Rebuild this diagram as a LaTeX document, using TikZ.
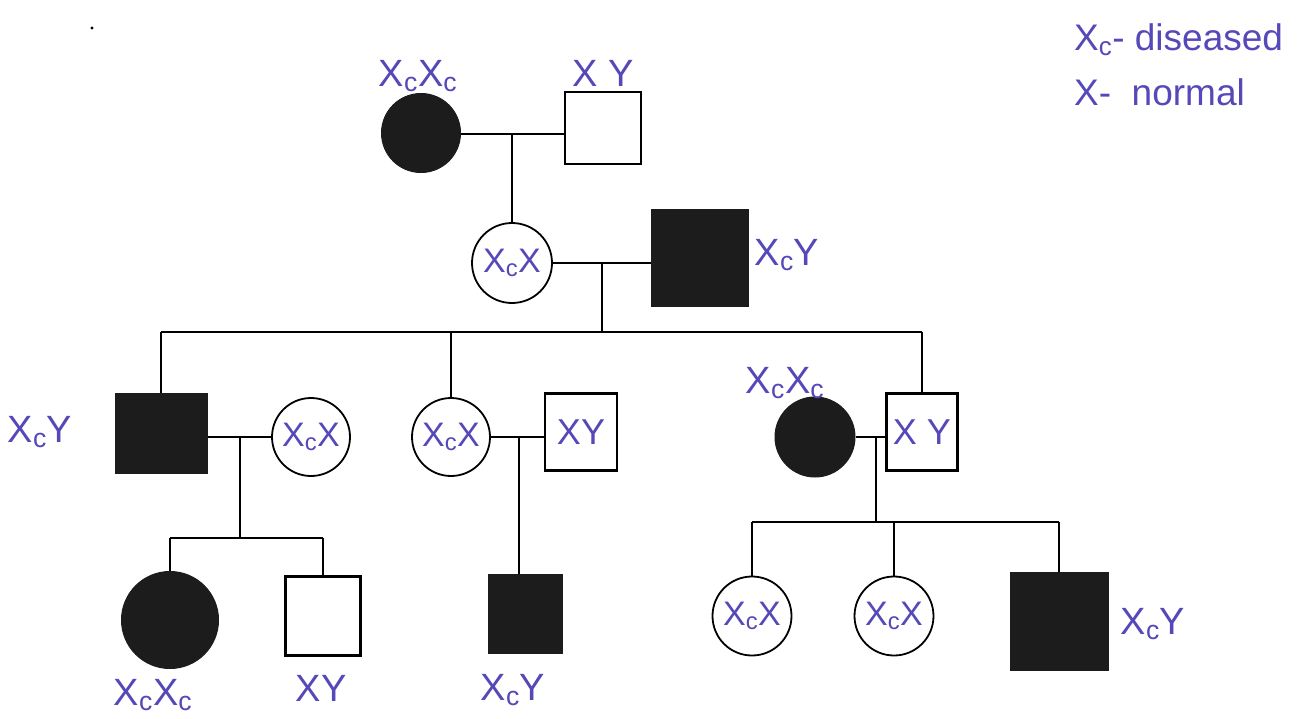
\documentclass[tikz,border=0pt]{standalone}
\usepackage{fontspec}
\setmainfont{Liberation Sans}
\definecolor{ink}{HTML}{5548B8}
\definecolor{dark}{HTML}{1C1C1C}
\begin{document}
\begin{tikzpicture}[x=1pt,y=-1pt,
  line width=2.4pt,
  affF/.style={circle,fill=dark,draw=dark,line width=1pt,inner sep=0pt},
  unF/.style={circle,draw=black,line width=1.8pt,fill=white,inner sep=0pt,text=ink,font=\fontsize{34}{38}\selectfont},
  affM/.style={rectangle,fill=dark,draw=dark,line width=1pt,inner sep=0pt},
  unM/.style={rectangle,draw=black,line width=2.4pt,fill=white,inner sep=0pt,text=ink,font=\fontsize{36}{40}\selectfont},
  lab/.style={text=ink,inner sep=0pt,font=\fontsize{38}{42}\selectfont},
  leg/.style={text=ink,inner sep=0pt,anchor=west,font=\fontsize{37}{42}\selectfont}]
\useasboundingbox (0,0) rectangle (1301,718);
\fill[white] (0,0) rectangle (1301,718);
\fill[black] (92,28) circle (1.6);
% legend
\node[leg] (leg1) at (1073,40) {X\textsubscript{c}- diseased};
\node[leg] (leg2) at (1073,92) {X- \ normal};
% generation I
\node[affF,minimum size=79pt] (I1) at (421,133) {};
\node[unM,minimum width=76pt,minimum height=72pt] (I2) at (603,128) {};
\node[lab] (tI1) at (418,76) {X\textsubscript{c}X\textsubscript{c}};
\node[lab] (tI2) at (603,73) {X Y};
% generation II
\node[unF,minimum size=80pt] (II1) at (512,263) {X\textsubscript{c}X};
\node[affM,minimum size=97pt] (II2) at (700,258) {};
\node[lab] (tII2) at (787,255) {X\textsubscript{c}Y};
% generation III
\node[affM,minimum width=92pt,minimum height=80pt] (III1) at (161,433) {};
\node[unF,minimum size=78pt] (III2) at (311,437) {X\textsubscript{c}X};
\node[unF,minimum size=78pt] (III3) at (451,437) {X\textsubscript{c}X};
\node[unM,minimum width=72pt,minimum height=77pt] (III4) at (581,432) {XY};
\node[affF,minimum size=80pt] (III5) at (815,437) {};
\node[unM,minimum width=71pt,minimum height=77pt] (III6) at (922,432) {X Y};
\node[lab] (tIII1) at (40,432) {X\textsubscript{c}Y};
\node[lab] (tIII5) at (785,383) {X\textsubscript{c}X\textsubscript{c}};
% generation IV
\node[affF,minimum size=97pt] (IV1) at (170,620) {};
\node[unM,minimum width=75pt,minimum height=79pt] (IV2) at (323,616) {};
\node[affM,minimum width=74pt,minimum height=79pt] (IV3) at (525,614) {};
\node[unF,minimum size=79pt] (IV4) at (752,616) {X\textsubscript{c}X};
\node[unF,minimum size=79pt] (IV5) at (894,616) {X\textsubscript{c}X};
\node[affM,minimum size=98pt] (IV6) at (1059,621) {};
\node[lab] (tIV1) at (153,695) {X\textsubscript{c}X\textsubscript{c}};
\node[lab] (tIV2) at (321,688) {XY};
\node[lab] (tIV3) at (513,690) {X\textsubscript{c}Y};
\node[lab] (tIV6) at (1153,624) {X\textsubscript{c}Y};
% junction coordinates
\coordinate (m1) at (512,134);
\coordinate (m2) at (602,263);
\coordinate (s2) at (602,332);
\coordinate (m3) at (240,437);
\coordinate (s3) at (240,538);
\coordinate (m4) at (519,437);
\coordinate (m5) at (876,437);
\coordinate (s5) at (876,522);
% generation I connectors
\draw (I1.east |- m1) -- (I2.west |- m1);
\draw (m1) -- (m1 |- II1.north);
% generation II connectors
\draw (II1.east) -- (II1.east -| II2.west);
\draw (m2) -- (s2);
\draw (III1.north |- s2) -- (III6.north |- s2);
\draw (III1.north |- s2) -- (III1.north);
\draw (III3.north |- s2) -- (III3.north);
\draw (III6.north |- s2) -- (III6.north);
% generation III connectors
\draw (III1.east |- m3) -- (III2.west);
\draw (m3) -- (s3);
\draw (IV1.north |- s3) -- (IV2.north |- s3);
\draw (IV1.north |- s3) -- (IV1.north);
\draw (IV2.north |- s3) -- (IV2.north);
\draw (III3.east) -- (III3.east -| III4.west);
\draw (m4) -- (m4 |- IV3.north);
\draw (III5.east) -- (III5.east -| III6.west);
\draw (m5) -- (s5);
\draw (IV4.north |- s5) -- (IV6.north |- s5);
\draw (IV4.north |- s5) -- (IV4.north);
\draw (IV5.north |- s5) -- (IV5.north);
\draw (IV6.north |- s5) -- (IV6.north);
\end{tikzpicture}
\end{document}
